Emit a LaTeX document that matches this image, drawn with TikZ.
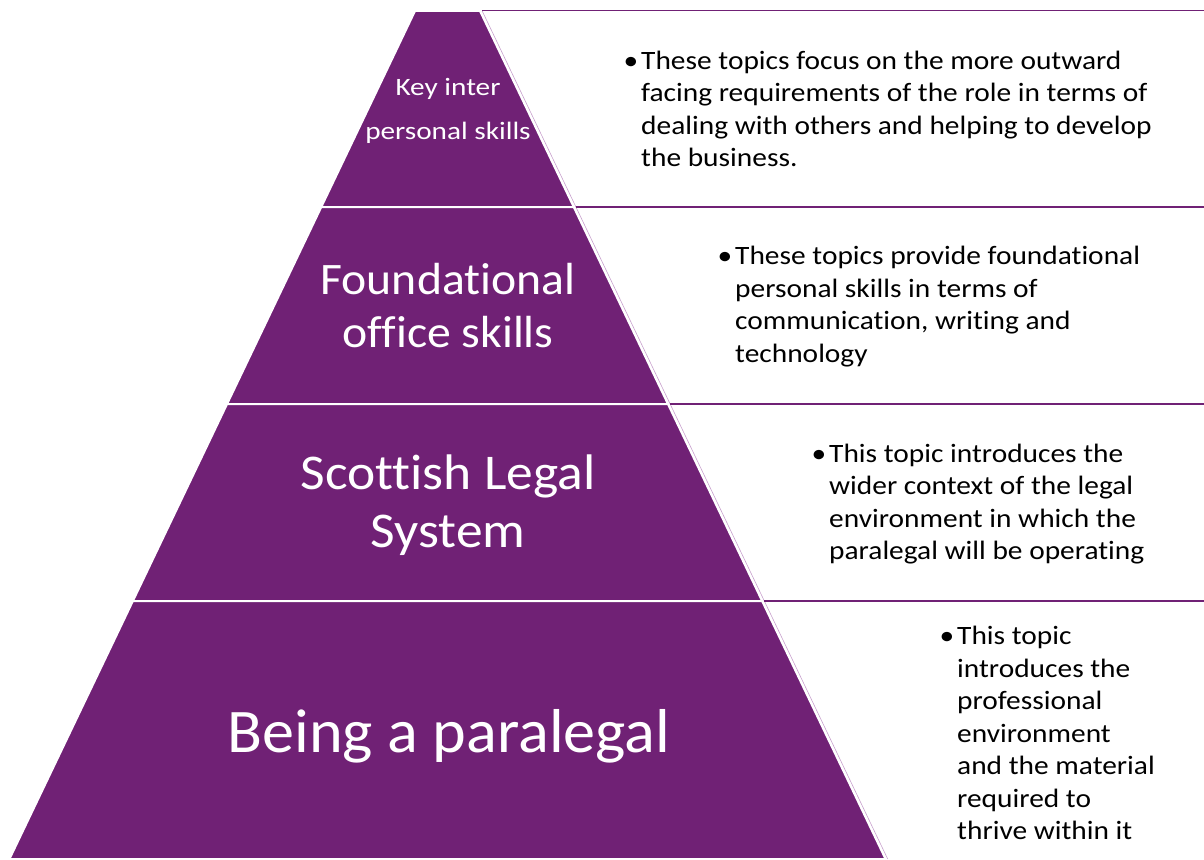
\documentclass[tikz,border=0pt]{standalone}
\usepackage{fontspec}
\setmainfont{Carlito}[Ligatures=NoCommon]
\newfontfamily\infofont{Carlito}[FakeStretch=1.11, Ligatures=NoCommon]
\newfontfamily\keyfont{Carlito}[FakeStretch=1.17, Ligatures=NoCommon]
\newfontfamily\foundfont{Carlito}[FakeStretch=1.06, Ligatures=NoCommon]
\newfontfamily\scotfont{Carlito}[FakeStretch=1.07, Ligatures=NoCommon]
\newfontfamily\beingfont{Carlito}[FakeStretch=1.035, Ligatures=NoCommon]
\definecolor{pyr}{RGB}{112,33,117}
\definecolor{pyrlight}{RGB}{200,160,205}
\tikzset{
  level/.style={fill=pyr, draw=white, line width=2pt},
  infobox/.style={fill=white, draw=none},
  sepline/.style={draw=pyr, line width=2pt},
  edgeline/.style={draw=pyrlight, line width=0.6pt},
  pyrtext/.style={text=white, align=center, inner sep=0pt},
  infotext/.style={text=black, align=left, inner sep=0pt, anchor=west,
    font=\infofont\fontsize{26.5}{32.5}\selectfont},
}
\newcommand{\bul}{\llap{\textbullet\hspace{3pt}}}
\begin{document}
\begin{tikzpicture}[x=1pt,y=-1pt]
\useasboundingbox (0,0) rectangle (1204,859);
% pyramid coordinates
\coordinate (L0) at (415,11);   \coordinate (R0) at (480,11);
\coordinate (L1) at (321.3,207); \coordinate (R1) at (573.7,207);
\coordinate (L2) at (227.1,404); \coordinate (R2) at (667.9,404);
\coordinate (L3) at (132.9,601); \coordinate (R3) at (762.1,601);
\coordinate (L4) at (9.5,859);   \coordinate (R4) at (885.5,859);
% right boxes
\fill[infobox] ([xshift=2pt]R0) -- (1210,11) -- (1210,859) -- ([xshift=2pt]R4) -- cycle;
\draw[edgeline] ([xshift=2.2pt]R0) -- ([xshift=2.2pt]R4);
\draw[draw=pyr, line width=1pt] ([xshift=2pt]R0) -- (1210,11);
\draw[sepline] ([xshift=2pt]R1) -- (1210,207);
\draw[sepline] ([xshift=2pt]R2) -- (1210,404);
\draw[sepline] ([xshift=2pt]R3) -- (1210,601);
% pyramid levels
\draw[level] (L0) -- (R0) -- (R1) -- (L1) -- cycle;
\draw[level] (L1) -- (R1) -- (R2) -- (L2) -- cycle;
\draw[level] (L2) -- (R2) -- (R3) -- (L3) -- cycle;
\draw[level] (L3) -- (R3) -- (R4) -- (L4) -- cycle;
% pyramid labels
\node[pyrtext, font=\keyfont\fontsize{25}{44}\selectfont] (key) at (448,111) {Key inter\\personal skills};
\node[pyrtext, font=\foundfont\fontsize{45}{53}\selectfont] (found) at (448,306) {Foundational\\office skills};
\node[pyrtext, font=\scotfont\fontsize{50}{58}\selectfont] (scot) at (448,505) {Scottish Legal\\System};
\node[pyrtext, font=\beingfont\fontsize{62}{70}\selectfont] (being) at (449,736) {Being a paralegal};
% descriptions
\node[infotext] (d1) at (641,109) {\bul These topics focus on the more outward\\facing requirements of the role in terms of\\dealing with others and helping to develop\\the business.};
\node[infotext] (d2) at (735,306.5) {\bul These topics provide foundational\\personal skills in terms of\\communication, writing and\\technology};
\node[infotext] (d3) at (829,504) {\bul This topic introduces the\\wider context of the legal\\environment in which the\\paralegal will be operating};
\node[infotext] (d4) at (957,733) {\bul This topic\\introduces the\\professional\\environment\\and the material\\required to\\thrive within it};
\end{tikzpicture}
\end{document}
